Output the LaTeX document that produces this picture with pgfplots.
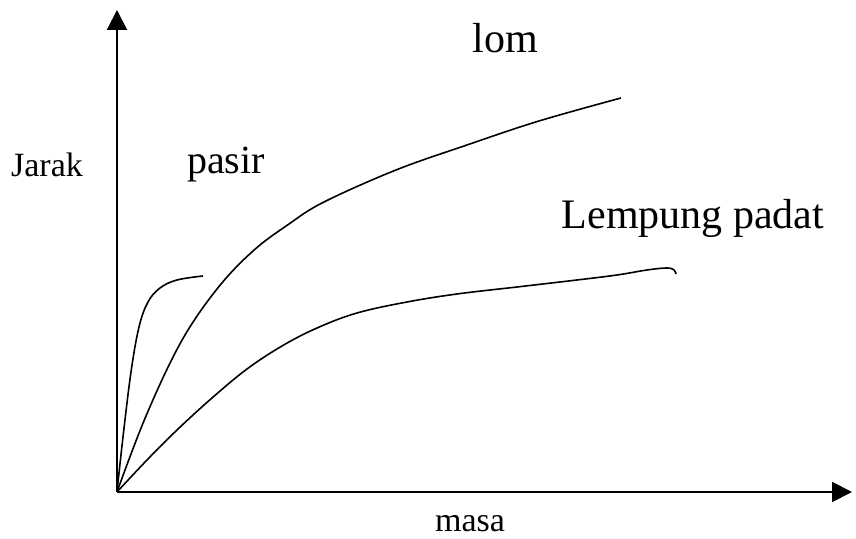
\documentclass[border=0pt]{standalone}
\usepackage{pgfplots}
\pgfplotsset{compat=1.18}
\usetikzlibrary{arrows.meta}
\usepackage{fontspec}
\setmainfont{Liberation Serif}
\begin{document}
\begin{tikzpicture}
\begin{axis}[
  scale only axis, width=367.5pt, height=241pt,
  xmin=0, xmax=735, ymin=0, ymax=482,
  axis lines=left,
  axis line style={line width=1pt, -{Triangle[length=10pt,width=10pt]}},
  xtick=\empty, ytick=\empty,
  clip=false,
]
% pasir
\addplot[black, line width=0.8pt, smooth, tension=0.6] coordinates {
 (0,0) (6,55) (14,120) (22,165) (31,190) (43,204) (60,212) (86,216)};
% lom
\addplot[black, line width=0.8pt, smooth, tension=0.6] coordinates {
 (0,0) (29,76) (64,150) (100,203) (136,241) (172,268) (207,290) (279,322) (350,347) (422,371) (504,394)};
% Lempung padat
\addplot[black, line width=0.8pt, smooth, tension=0.6] coordinates {
 (0,0) (30,32) (60,62) (95,94) (130,123) (165,146) (200,164) (240,179) (290,190) (340,198) (400,205) (460,212) (500,217) (530,222) (550,224) (557,222) (559,218)};
\node[font=\fontsize{17}{20}\selectfont] at (axis cs:-70,327) {Jarak};
\node[font=\fontsize{20}{24}\selectfont] at (axis cs:109,327) {pasir};
\node[font=\fontsize{21}{25}\selectfont] at (axis cs:388,454) {lom};
\node[font=\fontsize{21}{25}\selectfont] at (axis cs:576,274) {Lempung padat};
\node[font=\fontsize{17}{20}\selectfont] at (axis cs:353,-32) {masa};
\path (axis cs:-117,-46) rectangle (axis cs:739,492);
\end{axis}
\end{tikzpicture}
\end{document}
